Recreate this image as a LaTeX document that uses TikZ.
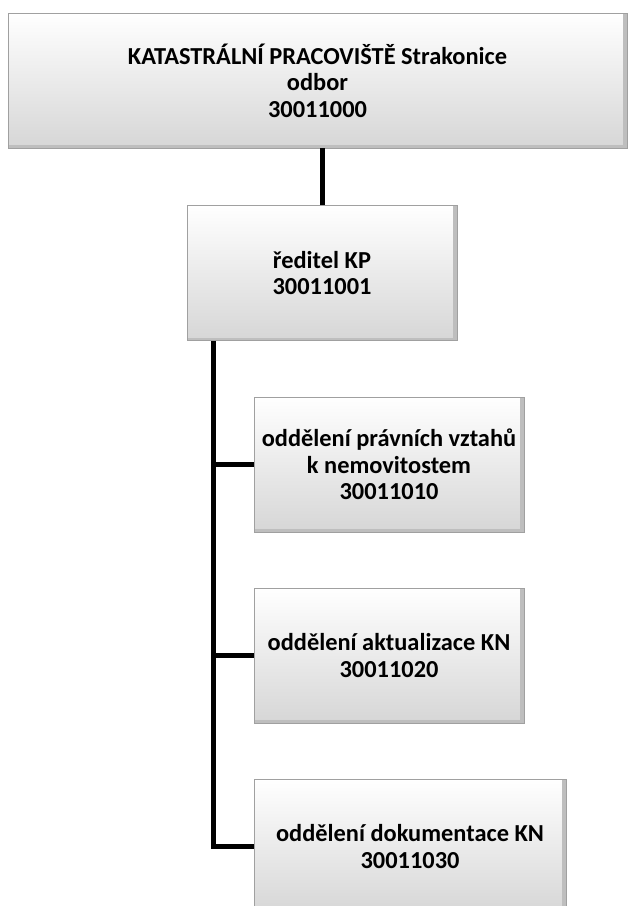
\documentclass[tikz,border=0pt]{standalone}
\usepackage{fontspec}
\setmainfont{Carlito}
\usetikzlibrary{positioning}
\definecolor{edgegray}{RGB}{160,160,160}
\definecolor{lowgray}{RGB}{214,214,214}
\definecolor{sidegray}{RGB}{190,190,190}

\begin{document}
\begin{tikzpicture}[x=1pt, y=-1pt]
\tikzstyle{unit} = [rectangle, minimum height=135pt, text centered, align=center, draw=edgegray, line width=0.8pt, top color=white, bottom color=lowgray, inner sep=0pt, font=\fontsize{24.4}{26.5}\selectfont\bfseries,
  path picture={\fill[sidegray] ([xshift=-4pt]path picture bounding box.north east) rectangle (path picture bounding box.south east);
                \fill[sidegray] ([yshift=3pt]path picture bounding box.south west) rectangle (path picture bounding box.south east);}]
\tikzstyle{link} = [line width=5pt, black]

\clip (0,0) rectangle (628,906);
\fill[white] (0,0) rectangle (628,906);

\node (odbor) [unit, minimum width=619pt] at (317.5,80.5) {KATASTRÁLNÍ PRACOVIŠTĚ Strakonice\\odbor\\30011000};
\node (reditel) [unit, minimum width=270pt] at (322,273) {ředitel KP\\30011001};

\node (pravni) [unit, minimum width=270pt] at (389,464.5) {oddělení právních vztahů\\k nemovitostem\\30011010};
\node (aktual) [unit, minimum width=270pt] at (389,655.5) {oddělení aktualizace KN\\30011020};
\node (dokum) [unit, minimum width=312pt] at (410,846.5) {oddělení dokumentace KN\\30011030};

\coordinate (trunk) at (213,0);

\draw [link] (odbor.south -| reditel.north) -- (reditel.north);
\draw [link] (reditel.south -| trunk) |- (dokum.west);
\draw [link] (trunk |- pravni.west) -- (pravni.west);
\draw [link] (trunk |- aktual.west) -- (aktual.west);
\end{tikzpicture}
\end{document}
